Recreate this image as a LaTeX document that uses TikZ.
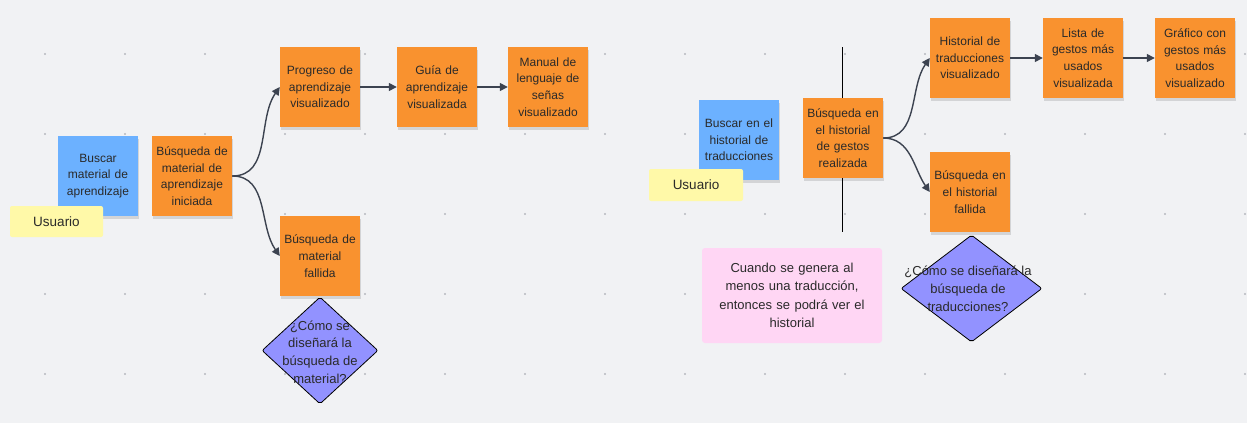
\documentclass[tikz,border=0pt]{standalone}
\usepackage{fontspec}
\setmainfont{Liberation Sans}
\usetikzlibrary{arrows.meta,shadows,shapes.geometric}
\definecolor{bg}{HTML}{F1F2F4}
\definecolor{orng}{HTML}{F9922F}
\definecolor{blu}{HTML}{6CB1FF}
\definecolor{yel}{HTML}{FFF9A8}
\definecolor{pnk}{HTML}{FFD6F4}
\definecolor{dia}{HTML}{9292FF}
\definecolor{arr}{HTML}{3C4350}
\definecolor{dotc}{HTML}{B5B8BE}
\definecolor{txt}{HTML}{2A2A2A}
\tikzset{
  note/.style={minimum width=80pt, minimum height=80pt, inner sep=2pt, text width=76pt,
    align=center, font=\fontsize{12}{16.7}\selectfont, text=txt,
    drop shadow={shadow xshift=0.5pt, shadow yshift=-3pt, opacity=0.12, fill=black}},
  orangebox/.style={note, fill=orng},
  bluebox/.style={note, fill=blu},
  userbox/.style={fill=yel, rounded corners=2pt, minimum width=93pt, minimum height=31pt,
    inner sep=0pt, font=\fontsize{13.5}{16}\selectfont, text=txt},
  pinkbox/.style={fill=pnk, rounded corners=3pt, minimum width=180pt, minimum height=95pt,
    inner sep=0pt, text width=170pt, align=center, font=\fontsize{13}{18.5}\selectfont, text=txt},
  diashape/.style={diamond, draw=black, line width=0.8pt, fill=dia, rounded corners=2pt, inner sep=0pt},
  diatext/.style={align=center, font=\fontsize{13}{17.8}\selectfont, text=txt, inner sep=0pt},
  link/.style={draw=arr, line width=1.4pt, -{Triangle[length=8pt,width=8pt]}},
  divider/.style={draw=black, line width=0.9pt},
}
\begin{document}
\begin{tikzpicture}[x=1pt,y=1pt]
\fill[bg] (0,0) rectangle (1247,-423);
\useasboundingbox (0,0) rectangle (1247,-423);
% grid dots
\foreach \i in {0,...,15}{
  \foreach \j in {0,...,4}{
    \fill[dotc] (45+80*\i,-54-80*\j) circle (1.1pt);
  }
}
% ---------- left flow ----------
\node[bluebox] (buscar1) at (98,-176) {Buscar\\material de\\aprendizaje};
\node[userbox] (usuario1) at (56.5,-221.5) {Usuario};
\node[orangebox] (ini1) at (192,-176) {Búsqueda de\\material de\\aprendizaje\\iniciada};
\node[orangebox] (prog) at (320,-87) {Progreso de\\aprendizaje\\visualizado};
\node[orangebox] (guia) at (437,-87) {Guía de\\aprendizaje\\visualizada};
\node[orangebox] (manual) at (548,-87) {Manual de\\lenguaje de\\señas\\visualizado};
\node[orangebox] (fall1) at (320,-256) {Búsqueda de\\material\\fallida};
\node[diashape, minimum width=116pt, minimum height=107pt] (dia1) at (320,-350.5) {};
\node[diatext] (diat1) at (320,-352) {¿Cómo se\\diseñará la\\búsqueda de\\material?};
\draw[link] (ini1.east) to[out=0,in=235] (prog.west);
\draw[link] (ini1.east) to[out=0,in=125] (fall1.west);
\draw[link] (prog.east) -- (guia.west);
\draw[link] (guia.east) -- (manual.west);
% ---------- right flow ----------
\coordinate (divtop) at (842,-47);
\coordinate (divbot) at (842,-232);
\draw[divider] (divtop) -- (divbot);
\node[bluebox] (buscar2) at (739,-140) {Buscar en el\\historial de\\traducciones};
\node[userbox, minimum width=94pt, minimum height=32pt] (usuario2) at (696,-185) {Usuario};
\node[orangebox] (real) at (843,-138) {Búsqueda en\\el historial\\de gestos\\realizada};
\node[orangebox] (hist) at (970,-58) {Historial de\\traducciones\\visualizado};
\node[orangebox] (lista) at (1083,-58) {Lista de\\gestos más\\usados\\visualizada};
\node[orangebox] (graf) at (1195,-58) {Gráfico con\\gestos más\\usados\\visualizado};
\node[orangebox] (fall2) at (970,-192) {Búsqueda en\\el historial\\fallida};
\node[pinkbox] (nota) at (792,-295.5) {Cuando se genera al\\menos una traducción,\\entonces se podrá ver el\\historial};
\node[diashape, minimum width=141pt, minimum height=107pt] (dia2) at (971.5,-288.5) {};
\node[diatext] (diat2) at (968,-289) {¿Cómo se diseñará la\\búsqueda de\\traducciones?};
\draw[link] (real.east) to[out=0,in=235] (hist.west);
\draw[link] (real.east) to[out=0,in=125] (fall2.west);
\draw[link] (hist.east) -- (lista.west);
\draw[link] (lista.east) -- (graf.west);
\end{tikzpicture}
\end{document}
